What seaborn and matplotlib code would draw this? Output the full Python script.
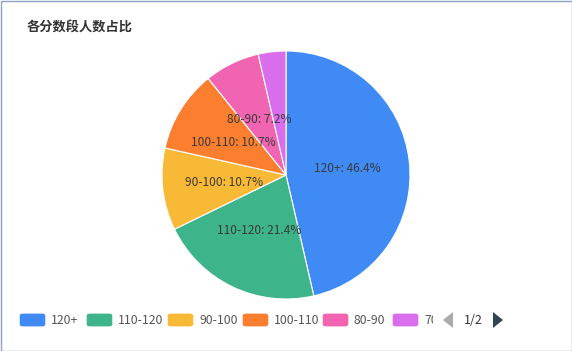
import matplotlib
matplotlib.use("Agg")
import matplotlib.pyplot as plt
import seaborn as sns
import numpy as np
from matplotlib.patches import FancyBboxPatch, Rectangle, Polygon

# ---- data ----
categories = ["120+", "110-120", "90-100", "100-110", "80-90", "70-80"]
percents = [46.4, 21.4, 10.7, 10.7, 7.2, 3.6]
show_label = [True, True, True, True, True, False]
colors = ["#3F8AF5", "#3EB48A", "#F8B937", "#FC7E2F", "#F164B1", "#D96DEC"]
title = "各分数段人数占比"
page_text = "1/2"

sns.set_theme(style="white")
plt.rcParams["font.family"] = ["Noto Sans CJK SC", "DejaVu Sans"]
palette = sns.color_palette(colors)

W, H = 572, 351
fig = plt.figure(figsize=(W / 100, H / 100), dpi=100)
fig.patch.set_facecolor("white")

# pie axes
cx, cy, r = 286, 175, 124
ax = fig.add_axes([(cx - r) / W, (H - cy - r) / H, 2 * r / W, 2 * r / H])
wedges, _ = ax.pie(percents, colors=palette, startangle=90, counterclock=False,
                   radius=1.0, wedgeprops=dict(edgecolor="white", linewidth=0.8))
ax.set_xlim(-1, 1)
ax.set_ylim(-1, 1)
ax.set_aspect("equal")
ax.axis("off")

for w, cat, p, show in zip(wedges, categories, percents, show_label):
    if not show:
        continue
    ang = np.deg2rad((w.theta1 + w.theta2) / 2)
    ax.text(0.5 * np.cos(ang), 0.5 * np.sin(ang), f"{cat}: {p}%",
            ha="center", va="center", fontsize=8.6, color="#3a3a3a")

# title
fig.text(27 / W, 1 - 28 / H, title, ha="left", va="center", fontsize=9.5,
         fontweight="bold", color="#333333")

# legend
box_x = [20, 87, 168, 243, 323, 393]
ly = 320
clip_right = 433
for i, (cat, col) in enumerate(zip(categories, colors)):
    bx = box_x[i]
    fig.patches.append(FancyBboxPatch(((bx + 2) / W, (H - ly - 5) / H), 21 / W, 10 / H,
                                      boxstyle="round,pad=0.004,rounding_size=0.006",
                                      transform=fig.transFigure, facecolor=col,
                                      edgecolor="none"))
    t = fig.text((bx + 31) / W, 1 - ly / H, cat, ha="left", va="center",
                 fontsize=8.8, color="#555555")
    if i == len(categories) - 1:
        clip = Rectangle((0, 0), clip_right / W, 1, transform=fig.transFigure)
        t.set_clip_path(clip)
        t.set_clip_on(True)

# pagination arrows
fig.patches.append(Polygon([[453 / W, (H - 312) / H], [453 / W, (H - 328) / H], [443 / W, (H - 320) / H]],
                           closed=True, transform=fig.transFigure, facecolor="#aaaaaa", edgecolor="none"))
fig.text(473 / W, 1 - ly / H, page_text, ha="center", va="center", fontsize=9, color="#333333")
fig.patches.append(Polygon([[493 / W, (H - 312) / H], [493 / W, (H - 328) / H], [503 / W, (H - 320) / H]],
                           closed=True, transform=fig.transFigure, facecolor="#2f4554", edgecolor="none"))

# outer border
fig.patches.append(Rectangle((0.5 / W, 0.5 / H), 1 - 1 / W, 1 - 1 / H, transform=fig.transFigure,
                             fill=False, edgecolor="#8ea2c6", linewidth=1))

fig.savefig("out.png", dpi=100, facecolor="white")
